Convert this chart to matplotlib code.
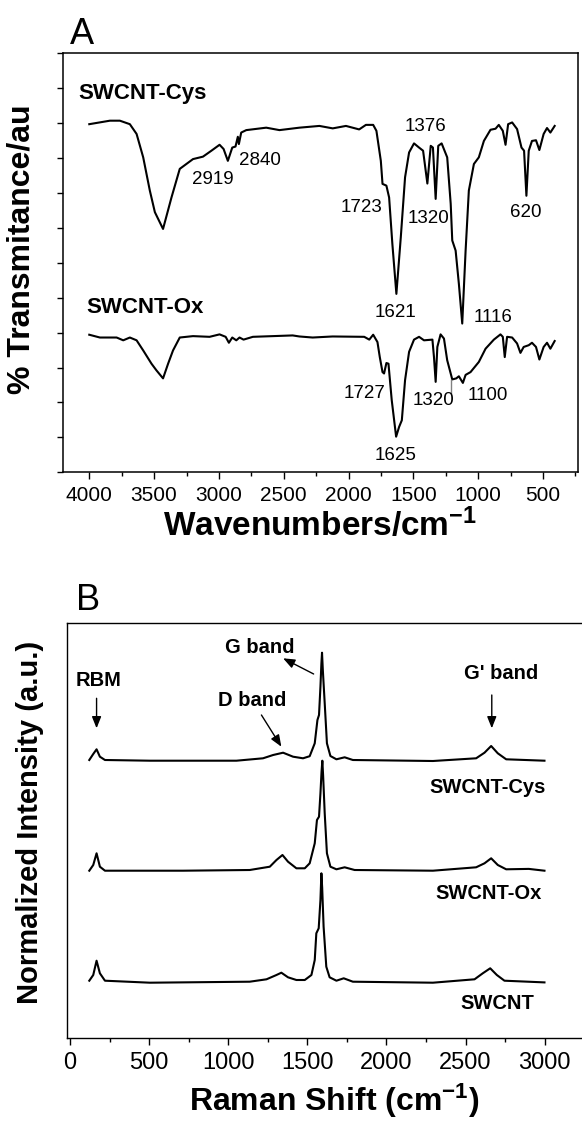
import matplotlib
matplotlib.use("Agg")
import matplotlib.pyplot as plt
from matplotlib.ticker import MultipleLocator, NullFormatter

plt.rcParams['font.family'] = ['Liberation Sans', 'DejaVu Sans']
plt.rcParams['mathtext.fontset'] = 'custom'
plt.rcParams['mathtext.rm'] = 'Liberation Sans:bold'
plt.rcParams['mathtext.default'] = 'rm'

# ---- FTIR data (panel A), transmittance in arbitrary units ----
ir_cys_wn = [4000, 3841, 3764, 3687, 3635, 3584, 3533, 3494, 3431, 3366, 3302, 3200,
             3123, 3058, 2995, 2964, 2931, 2897, 2872, 2854, 2846, 2828, 2789, 2635,
             2533, 2379, 2225, 2122, 2020, 1918, 1866, 1810, 1785, 1751, 1738, 1708,
             1687, 1662, 1631, 1597, 1564, 1533, 1495, 1456, 1425, 1392, 1366, 1349,
             1328, 1308, 1282, 1239, 1212, 1200, 1174, 1149, 1123, 1097, 1072, 1033,
             995, 956, 905, 866, 841, 810, 789, 769, 738, 700, 666, 646, 628, 610,
             585, 554, 528, 495, 469, 443, 410]
ir_cys_t = [9.97, 10.07, 10.07, 9.97, 9.69, 9.02, 8.07, 7.45, 6.97, 7.87, 8.69, 8.97,
            9.04, 9.21, 9.38, 9.26, 8.92, 9.30, 9.33, 9.61, 9.40, 9.73, 9.80, 9.87,
            9.80, 9.87, 9.92, 9.85, 9.92, 9.82, 9.95, 9.95, 9.78, 8.92, 8.26, 8.21,
            7.87, 6.54, 5.11, 6.73, 8.45, 9.16, 9.42, 9.30, 9.21, 8.27, 9.35, 9.30,
            7.83, 9.35, 9.42, 9.02, 7.69, 6.64, 6.35, 5.40, 4.26, 6.35, 8.07, 8.83,
            9.02, 9.49, 9.81, 9.84, 9.95, 9.78, 9.38, 9.97, 10.02, 9.83, 9.30, 9.21, 7.92, 9.21,
            9.49, 9.51, 9.23, 9.69, 9.86, 9.73, 9.92]

ir_ox_wn = [4000, 3918, 3789, 3738, 3687, 3635, 3584, 3520, 3482, 3431, 3392, 3354,
            3302, 3200, 3072, 2995, 2948, 2923, 2897, 2866, 2841, 2810, 2738, 2431,
            2379, 2277, 2123, 1879, 1840, 1810, 1777, 1759, 1738, 1726, 1708, 1692,
            1667, 1633, 1610, 1589, 1564, 1533, 1495, 1456, 1418, 1353, 1341, 1328,
            1315, 1290, 1264, 1239, 1200, 1169, 1149, 1118, 1097, 1059, 995, 943,
            879, 828, 810, 795, 777, 738, 700, 674, 649, 610, 585, 554, 528, 495,
            469, 443, 410]
ir_ox_t = [3.94, 3.86, 3.86, 3.78, 3.86, 3.78, 3.49, 3.11, 2.92, 2.69, 3.11, 3.49,
           3.86, 3.90, 3.88, 3.95, 3.88, 3.71, 3.86, 3.78, 3.86, 3.80, 3.88, 3.92,
           3.89, 3.86, 3.89, 3.88, 3.80, 3.94, 3.73, 3.30, 2.87, 2.83, 3.13, 3.11,
           2.07, 1.02, 1.30, 1.49, 2.64, 3.45, 3.80, 3.88, 3.78, 3.80, 3.30, 2.59,
           3.59, 3.95, 3.83, 3.21, 2.66, 2.69, 2.75, 2.56, 2.79, 2.87, 3.16, 3.54,
           3.80, 3.95, 3.88, 3.30, 3.88, 3.86, 3.69, 3.42, 3.59, 3.64, 3.71, 3.59, 3.23, 3.59,
           3.71, 3.54, 3.76]

ir_cys_peaks = ['2919', '2840', '1723', '1376', '1320', '1621', '1116', '620']
ir_cys_peak_pos = [(3046, 8.40), (2687, 8.92), (1897, 7.59), (1410, 9.89),
                   (1385, 7.26), (1641, 4.59), (887, 4.43), (631, 7.43)]
ir_ox_peaks = ['1727', '1320', '1100', '1625']
ir_ox_peak_pos = [(1879, 2.27), (1341, 2.07), (923, 2.21), (1638, 0.49)]

# ---- Raman data (panel B), offset intensities ----
ram_cys_x = [122, 147, 168, 189, 221, 505, 1052, 1220, 1284, 1347, 1410, 1473, 1515,
             1547, 1564, 1574, 1583, 1589, 1593, 1598, 1610, 1624, 1646, 1684, 1736,
             1788, 2294, 2567, 2620, 2662, 2704, 2757, 2999]
ram_cys_y = [277.7, 283.7, 288.4, 281.0, 277.7, 277.0, 277.0, 279.4, 282.7, 285.0, 281.0,
             279.4, 281.5, 294.4, 317.7, 322.7, 351.0, 374.0, 385.0, 368.0, 334.4, 294.4,
             281.7, 278.4, 280.4, 277.7, 276.7, 279.4, 285.0, 291.7, 284.4, 278.4, 277.0]

ram_ox_x = [122, 147, 168, 189, 221, 715, 1136, 1263, 1305, 1343, 1378, 1431, 1484,
            1515, 1547, 1561, 1574, 1583, 1590, 1595, 1600, 1610, 1624, 1646, 1684,
            1736, 1799, 2294, 2567, 2620, 2662, 2704, 2757, 2900, 2999]
ram_ox_y = [167.0, 172.7, 184.4, 171.0, 167.0, 167.0, 167.7, 171.0, 177.7, 182.7, 176.0,
            169.4, 169.4, 174.4, 194.4, 217.7, 221.0, 244.4, 266.0, 277.0, 262.0, 224.4,
            184.4, 171.0, 168.4, 170.4, 167.7, 167.0, 170.4, 174.4, 179.4, 172.7, 168.4,
            168.8, 167.0]

ram_sw_x = [122, 147, 168, 189, 221, 505, 1136, 1242, 1305, 1336, 1378, 1431, 1484,
            1526, 1547, 1557, 1572, 1583, 1589, 1594, 1603, 1620, 1641, 1684, 1730,
            1788, 2294, 2557, 2609, 2656, 2698, 2746, 2999]
ram_sw_y = [57.0, 62.7, 77.0, 64.4, 57.0, 55.0, 56.0, 58.4, 62.7, 65.0, 60.4, 57.7,
            57.7, 62.7, 77.7, 104.4, 109.4, 137.7, 164.4, 150.0, 111.0, 71.0, 60.4, 57.0,
            59.4, 56.0, 55.0, 58.4, 64.4, 69.4, 62.7, 57.0, 55.3]

W, H = 582, 1121
fig = plt.figure(figsize=(W / 100, H / 100), dpi=100)

def frac(l, t, r, b):
    return [l / W, 1 - b / H, (r - l) / W, (b - t) / H]

# ================= Panel A =================
axA = fig.add_axes(frac(62.7, 53.3, 578, 472.3))
axA.plot(ir_cys_wn, ir_cys_t, color='black', lw=1.5)
axA.plot(ir_ox_wn, ir_ox_t, color='black', lw=1.5)
axA.set_xlim(4205, 230)
axA.set_ylim(0, 12)
axA.xaxis.set_major_locator(MultipleLocator(500))
axA.xaxis.set_minor_locator(MultipleLocator(250))
axA.yaxis.set_major_locator(MultipleLocator(1))
axA.yaxis.set_major_formatter(NullFormatter())
axA.tick_params(axis='x', which='major', direction='out', length=5, width=1,
                labelsize=15, pad=5)
axA.tick_params(axis='x', which='minor', direction='out', length=3, width=1)
axA.tick_params(axis='y', direction='out', length=4.5, width=1)
for s in axA.spines.values():
    s.set_linewidth(1.1)

axA.text(4085, 10.85, 'SWCNT-Cys', fontsize=16, fontweight='bold', va='center', ha='left')
axA.text(4020, 4.71, 'SWCNT-Ox', fontsize=16, fontweight='bold', va='center', ha='left')
for lab, (x, y) in zip(ir_cys_peaks, ir_cys_peak_pos):
    axA.text(x, y, lab, fontsize=13.5, ha='center', va='center')
for lab, (x, y) in zip(ir_ox_peaks, ir_ox_peak_pos):
    axA.text(x, y, lab, fontsize=13.5, ha='center', va='center')
axA.plot([1210, 1210], [2.64, 2.26], color='grey', lw=1)

axA.set_xlabel('Wavenumbers/cm$^{-1}$', fontsize=24, fontweight='bold', labelpad=2)
axA.set_ylabel('% Transmitance/au', fontsize=23, fontweight='bold')
axA.yaxis.set_label_coords(-0.05, 0.533)
fig.text(70 / W, 1 - 44 / H, 'A', fontsize=26, ha='left', va='baseline')

# ================= Panel B =================
axB = fig.add_axes(frac(67.3, 622.7, 600, 1037.7))
axB.plot(ram_cys_x, ram_cys_y, color='black', lw=1.5)
axB.plot(ram_ox_x, ram_ox_y, color='black', lw=1.5)
axB.plot(ram_sw_x, ram_sw_y, color='black', lw=1.5)
axB.set_xlim(-17, 3350)
axB.set_ylim(0, 415)
axB.xaxis.set_major_locator(MultipleLocator(500))
axB.xaxis.set_minor_locator(MultipleLocator(250))
axB.set_yticks([])
axB.tick_params(axis='x', which='major', direction='out', length=5, width=1,
                labelsize=17, pad=5)
axB.tick_params(axis='x', which='minor', direction='out', length=3, width=1)
for s in axB.spines.values():
    s.set_linewidth(1.0)

bold = dict(fontsize=14.5, fontweight='bold', ha='center', va='center')
axB.text(183, 357.7, 'RBM', **bold)
axB.text(1199, 390.4, 'G band', **bold)
axB.text(1149, 336.7, 'D band', **bold)
axB.text(2723, 364.4, "G' band", **bold)
axB.text(2641, 250.4, 'SWCNT-Cys', **bold)
axB.text(2643, 144.4, 'SWCNT-Ox', **bold)
axB.text(2704, 34.4, 'SWCNT', **bold)

arrow = dict(arrowstyle='-|>,head_length=0.5,head_width=0.2', lw=1, color='black',
             mutation_scale=14, shrinkA=0, shrinkB=0)
axB.annotate('', xy=(168, 309.4), xytext=(168, 339.4), arrowprops=arrow)
axB.annotate('', xy=(1347, 379.4), xytext=(1540, 363.7), arrowprops=arrow)
axB.annotate('', xy=(1336, 291.0), xytext=(1210, 322.7), arrowprops=arrow)
axB.annotate('', xy=(2666, 309.4), xytext=(2666, 342.7), arrowprops=arrow)

axB.set_xlabel('Raman Shift (cm$^{-1}$)', fontsize=23, fontweight='bold', labelpad=6)
axB.set_ylabel('Normalized Intensity (a.u.)', fontsize=21, fontweight='bold')
axB.yaxis.set_label_coords(-0.044, 0.52)
fig.text(76 / W, 1 - 610 / H, 'B', fontsize=26, ha='left', va='baseline')

fig.savefig('out.png', dpi=100)
